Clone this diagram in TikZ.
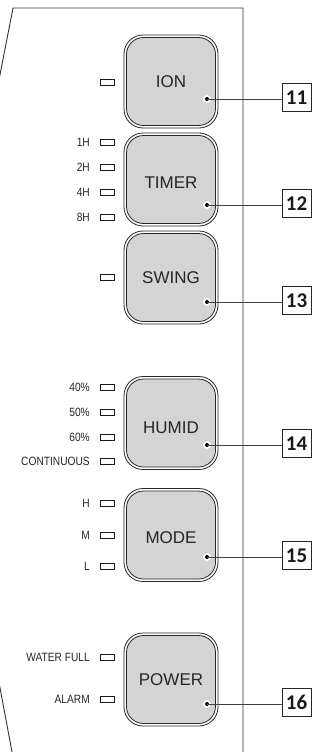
\documentclass[tikz,border=0pt]{standalone}
\usepackage{fontspec}
\setmainfont{Liberation Sans}
\newfontfamily\numfont{Carlito}
\begin{document}
\begin{tikzpicture}[x=1pt,y=-1pt,
  frame/.style={draw=black!80,line width=0.9pt},
  btnouter/.style={draw=black!85,line width=0.8pt,rounded corners=19pt,fill=white},
  btninner/.style={draw=black!85,line width=0.8pt,rounded corners=17pt,fill=black!17},
  btnlabel/.style={font=\fontsize{17}{20}\selectfont,text=black!85,inner sep=0pt},
  ledbox/.style={draw=black!90,line width=0.7pt,minimum width=14pt,minimum height=6pt,inner sep=0pt},
  ledlabel/.style={anchor=east,inner sep=0pt,text=black!85,font=\fontsize{12}{14}\selectfont},
  numbox/.style={draw=black!85,line width=0.9pt,fill=white,minimum width=29pt,minimum height=28pt,inner sep=0pt,font=\numfont\bfseries\fontsize{21}{24}\selectfont,text=black!90},
  callout/.style={draw=black!75,line width=0.9pt},
  dotw/.style={circle,fill=white,minimum size=8pt,inner sep=0pt},
  dotb/.style={circle,fill=black,minimum size=4pt,inner sep=0pt}
]
\useasboundingbox (0,0) rectangle (320,752);
% panel frame
\coordinate (tl) at (13,8);
\coordinate (tr) at (243,8);
\coordinate (br) at (243,760);
\coordinate (ltop) at (-2,85);
\coordinate (lbot1) at (-2,677);
\coordinate (lbot2) at (13.5,760);
\draw[frame] (ltop) -- (tl) -- (tr) -- (br);
\draw[frame] (lbot1) -- (lbot2);

% buttons: name, center y, label, label y, dot y
\foreach \nm/\cy/\lab/\ly/\dy/\num in {ion/81.5/ION/82/99/11, timer/179.5/TIMER/183/205/12, swing/277.5/SWING/278/302/13, humid/423/HUMID/428/445/14, mode/535/MODE/538/557/15, power/679.5/POWER/680/704/16}{
  \path[btnouter] (124,\cy-46.5) rectangle (218,\cy+46.5);
  \path[btninner] (126.5,\cy-44) rectangle (215.5,\cy+44);
  \node[btnlabel] (\nm-lab) at (171,\ly) {\lab};
  \node[dotw] (\nm-dw) at (207,\dy) {};
  \node[dotb] (\nm-dot) at (207,\dy) {};
  \node[numbox] (\nm-num) at (296.5,\dy-1.5) {\num};
  \draw[callout] (\nm-dot.center) -- (\nm-num.west |- \nm-dot.center);
}

% LEDs: y / label
\foreach \y/\t/\k in {82//a, 142/1H/b, 167/2H/c, 192/4H/d, 217/8H/e, 277//f, 387/40\%/g, 412/50\%/h, 437/60\%/i, 461/CONTINUOUS/j, 503/H/k, 535/M/l, 566/L/m, 657/WATER FULL/n, 699/ALARM/o}{
  \node[ledbox] (led-\k) at (107,\y) {};
  \node[ledlabel] (lab-\k) at (90,\y) {\scalebox{0.85}[1]{\t}};
}
\end{tikzpicture}
\end{document}
